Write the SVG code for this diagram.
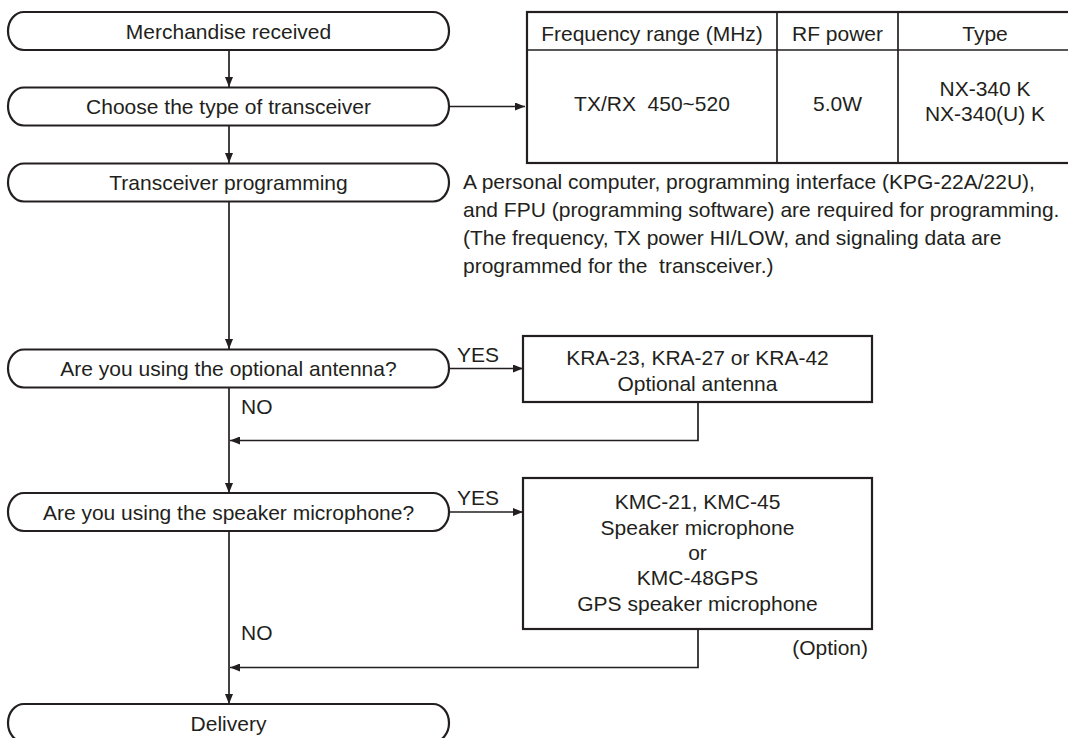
<svg xmlns="http://www.w3.org/2000/svg" width="1068" height="738" viewBox="0 0 1068 738">
<style>
text{font-family:"Liberation Sans",Arial,sans-serif;font-size:21px;fill:#231f20}
.c{text-anchor:middle}
.term{fill:#fff;stroke:#231f20;stroke-width:2.2}
.box{fill:#fff;stroke:#231f20;stroke-width:2.2}
.ln{fill:none;stroke:#231f20;stroke-width:1.7}
</style>
<defs>
<marker id="ah" viewBox="0 0 10 8" refX="10" refY="4" markerWidth="10" markerHeight="8" markerUnits="userSpaceOnUse" orient="auto">
<path d="M0,0 L10,4 L0,8 Z" fill="#231f20"/>
</marker>
</defs>
<rect width="1068" height="738" fill="#fff"/>
<g id="connectors">
<line class="ln" x1="229" y1="50" x2="229" y2="87" marker-end="url(#ah)"/>
<line class="ln" x1="229" y1="125" x2="229" y2="163" marker-end="url(#ah)"/>
<line class="ln" x1="229" y1="201" x2="229" y2="349" marker-end="url(#ah)"/>
<line class="ln" x1="449" y1="106.5" x2="525" y2="106.5" marker-end="url(#ah)"/>
<line class="ln" x1="449" y1="368.5" x2="523" y2="368.5" marker-end="url(#ah)"/>
<line class="ln" x1="229" y1="388" x2="229" y2="493" marker-end="url(#ah)"/>
<polyline class="ln" points="698,402 698,440.5 230,440.5" marker-end="url(#ah)"/>
<line class="ln" x1="449" y1="512" x2="523" y2="512" marker-end="url(#ah)"/>
<line class="ln" x1="229" y1="531" x2="229" y2="704" marker-end="url(#ah)"/>
<polyline class="ln" points="698,629 698,667.5 230,667.5" marker-end="url(#ah)"/>
<text x="457" y="362">YES</text>
<text x="241" y="414">NO</text>
<text x="457" y="505">YES</text>
<text x="241" y="640">NO</text>
</g>
<g id="merchandise">
<rect class="term" x="8" y="12" width="441" height="38" rx="16" ry="19"/>
<text class="c" x="228.5" y="38.5">Merchandise received</text>
</g>
<g id="choose">
<rect class="term" x="8" y="87.5" width="441" height="38" rx="16" ry="19"/>
<text class="c" x="228.5" y="114">Choose the type of transceiver</text>
</g>
<g id="programming">
<rect class="term" x="8" y="163.5" width="441" height="38" rx="16" ry="19"/>
<text class="c" x="228.5" y="190">Transceiver programming</text>
</g>
<g id="programming-note">
<text x="463" y="189">A personal computer, programming interface (KPG-22A/22U),</text>
<text x="463" y="217">and FPU (programming software) are required for programming.</text>
<text x="463" y="245">(The frequency, TX power HI/LOW, and signaling data are</text>
<text x="463" y="273" xml:space="preserve">programmed for the  transceiver.)</text>
</g>
<g id="table">
<rect class="box" x="527" y="12" width="545" height="151"/>
<line class="ln" x1="527" y1="50" x2="1072" y2="50"/>
<line class="ln" x1="777" y1="12" x2="777" y2="163"/>
<line class="ln" x1="898" y1="12" x2="898" y2="163"/>
<text class="c" x="652" y="40.5">Frequency range (MHz)</text>
<text class="c" x="837.5" y="40.5">RF power</text>
<text class="c" x="985" y="40.5">Type</text>
<text class="c" x="652" y="110.5" xml:space="preserve">TX/RX  450~520</text>
<text class="c" x="837.5" y="110.5">5.0W</text>
<text class="c" x="985" y="95.5">NX-340 K</text>
<text class="c" x="985" y="120.5">NX-340(U) K</text>
</g>
<g id="antenna-q">
<rect class="term" x="8" y="349.5" width="441" height="38" rx="16" ry="19"/>
<text class="c" x="228.5" y="376">Are you using the optional antenna?</text>
</g>
<g id="antenna-box">
<rect class="box" x="523" y="336" width="349" height="66"/>
<text class="c" x="697.5" y="364.5">KRA-23, KRA-27 or KRA-42</text>
<text class="c" x="697.5" y="390.5">Optional antenna</text>
</g>
<g id="speaker-q">
<rect class="term" x="8" y="493" width="441" height="38" rx="16" ry="19"/>
<text class="c" x="228.5" y="519.5">Are you using the speaker microphone?</text>
</g>
<g id="speaker-box">
<rect class="box" x="523" y="478" width="349" height="151"/>
<text class="c" x="697.5" y="508.5">KMC-21, KMC-45</text>
<text class="c" x="697.5" y="534.5">Speaker microphone</text>
<text class="c" x="697.5" y="559.5">or</text>
<text class="c" x="697.5" y="584.5">KMC-48GPS</text>
<text class="c" x="697.5" y="610.5">GPS speaker microphone</text>
<text x="868" y="654.5" text-anchor="end">(Option)</text>
</g>
<g id="delivery">
<rect class="term" x="8" y="704" width="441" height="38" rx="16" ry="19"/>
<text class="c" x="228.5" y="730.5">Delivery</text>
</g>
</svg>
